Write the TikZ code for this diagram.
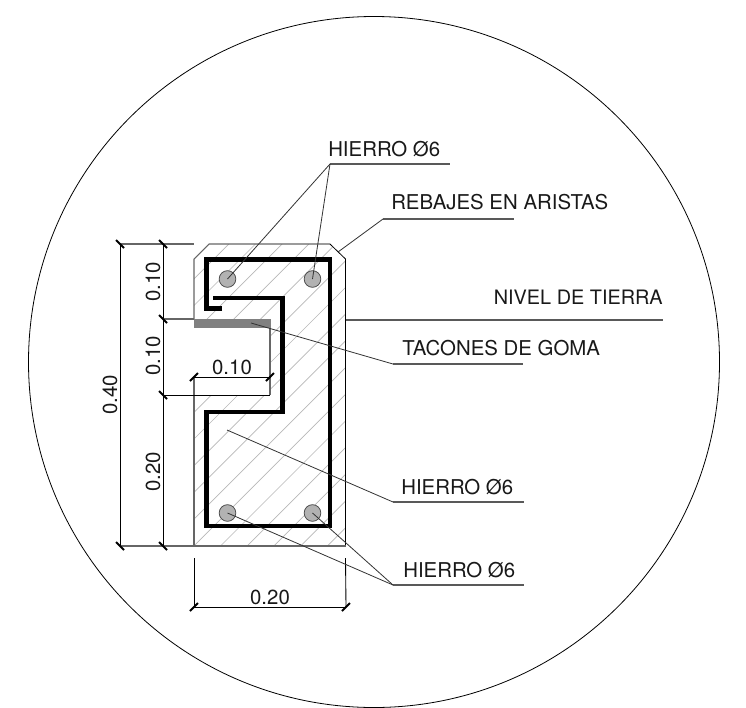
\documentclass[tikz,border=0pt]{standalone}
\usepackage{fontspec}
\setmainfont{TeX Gyre Heros}
\tikzset{
  x=0.75pt,y=-0.75pt,
  thin line/.style={draw=black,line width=0.75pt},
  grey line/.style={draw=black!60,line width=0.8pt},
  leader/.style={draw=black!80,line width=0.6pt},
  under/.style={draw=black!65,line width=0.95pt},
  dimension/.style={draw=black,line width=0.65pt},
  ticks/.style={draw=black,line width=1.4pt},
  hatching/.style={draw=black!28,line width=0.5pt},
  rebar/.style={draw=black,line width=3.3pt,line join=miter},
  rod/.style={circle,draw=black!70,fill=black!30,line width=0.6pt,minimum size=12.5pt,inner sep=0pt},
  label/.style={font=\fontsize{15.3pt}{17pt}\selectfont,inner sep=0pt,text=black!90},
  dimlabel/.style={font=\fontsize{15.3pt}{17pt}\selectfont,inner sep=0pt,text=black!90},
}
\begin{document}
\begin{tikzpicture}
\useasboundingbox (0,0) rectangle (746,707);
\fill[white] (0,0) rectangle (746,707);
% detail circle
\draw[thin line,line width=0.6pt] (374,362) circle (345.5);
% hatching, clipped to the section
\begin{scope}
  \clip (194,259)--(209,244)--(330,244)--(345.5,259)--(345.5,546)--(194,546)--(194,395)--(270,395)--(270,327)--(194,327)--cycle;
  \foreach \k in {0,...,24} {
    \pgfmathsetmacro{\c}{900-26.7*\k}
    \draw[hatching] ({\c-546+0},546) -- ({\c-244},244);
  }
\end{scope}
% section outline
\draw[grey line] (194,319)--(194,259)--(209,244)--(330,244);
\draw[thin line,line width=0.6pt] (330,244)--(345.5,259)--(345.5,546);
\draw[grey line] (345.5,546)--(194,546)--(194,377);
\draw[grey line] (270,327)--(270,395);
% rubber strip
\fill[black!50] (194,319) rectangle (271,327.5);
% reinforcement
\draw[rebar] (222,308.5)--(206.5,308.5)--(206.5,259.5)--(330,259.5)--(330,526)--(206.5,526)--(206.5,412)--(282.5,412)--(282.5,298)--(213,298);
% rods
\node[rod] (r1) at (227.5,279) {};
\node[rod] (r2) at (312.5,279) {};
\node[rod] (r3) at (227.5,513) {};
\node[rod] (r4) at (312.5,513) {};
% dimensions
\coordinate (da) at (120,244); \coordinate (db) at (120,546);
\coordinate (dc) at (163,244); \coordinate (dd) at (163,319);
\coordinate (de) at (163,395); \coordinate (df) at (163,546);
\coordinate (dg) at (194,377); \coordinate (dh) at (270,377);
\coordinate (di) at (194,607); \coordinate (dj) at (346,607);
\coordinate (dk) at (270,395);
\coordinate (dl) at (194,558); \coordinate (dm) at (345.5,558);
\draw[dimension] (da)--(db);
\draw[dimension] (dc)--(df);
\draw[dimension] (dg)--(dh);
\draw[dimension] (di)--(dj);
\draw[dimension] (dl)--(di);
\draw[dimension] (dm)--(dj);
\draw[dimension] (de)--(dk);
\draw[grey line] (da)--(194,244);
\draw[grey line] (db)--(194,546);
\draw[grey line] (dd)--(194,319);
\foreach \p in {da,db,dc,dd,de,df}
  \draw[ticks] (\p)+(-4,-4)--+(4,4);
\foreach \p in {dg,dh,di,dj}
  \draw[ticks] (\p)+(-4,4)--+(4,-4);
\node[dimlabel,rotate=90] (t40) at (110,395) {0.40};
\node[dimlabel,rotate=90] (t10a) at (153,282) {0.10};
\node[dimlabel,rotate=90] (t10b) at (153,356) {0.10};
\node[dimlabel,rotate=90] (t20a) at (153,472) {0.20};
\node[dimlabel] (t10c) at (232,367) {0.10};
\node[dimlabel] (t20b) at (270,597) {0.20};
% labels
\node[label,anchor=west] (l1) at (328,149) {HIERRO Ø6};
\node[label,anchor=west] (l2) at (391,202) {REBAJES EN ARISTAS};
\node[label,anchor=east,font=\fontsize{14.9pt}{17pt}\selectfont] (l3) at (663,297) {NIVEL DE TIERRA};
\node[label,anchor=west] (l4) at (402,348) {TACONES DE GOMA};
\node[label,anchor=west] (l5) at (401,487) {HIERRO Ø6};
\node[label,anchor=west] (l6) at (403,570) {HIERRO Ø6};
% leaders
\coordinate (u1a) at (330,164); \coordinate (u1b) at (450,164);
\coordinate (u2a) at (383,219); \coordinate (u2b) at (514,219);
\coordinate (u3a) at (346,320); \coordinate (u3b) at (663,320);
\coordinate (u4a) at (393,364); \coordinate (u4b) at (523,364);
\coordinate (u5a) at (393,502); \coordinate (u5b) at (524,502);
\coordinate (u6a) at (393,585); \coordinate (u6b) at (524,585);
\coordinate (chamfer) at (338,252);
\coordinate (strip) at (251,323);
\coordinate (core) at (227,430);
\draw[under] (u1a)--(u1b);
\draw[under] (u2a)--(u2b);
\draw[under] (u3a)--(u3b);
\draw[under] (u4a)--(u4b);
\draw[under] (u5a)--(u5b);
\draw[under] (u6a)--(u6b);
\draw[leader] (u1a)--(r1.center);
\draw[leader] (u1a)--(r2.center);
\draw[leader] (u2a)--(chamfer);
\draw[leader] (u4a)--(strip);
\draw[leader] (u5a)--(core);
\draw[leader] (u6a)--(r3.center);
\draw[leader] (u6a)--(r4.center);
\end{tikzpicture}
\end{document}
